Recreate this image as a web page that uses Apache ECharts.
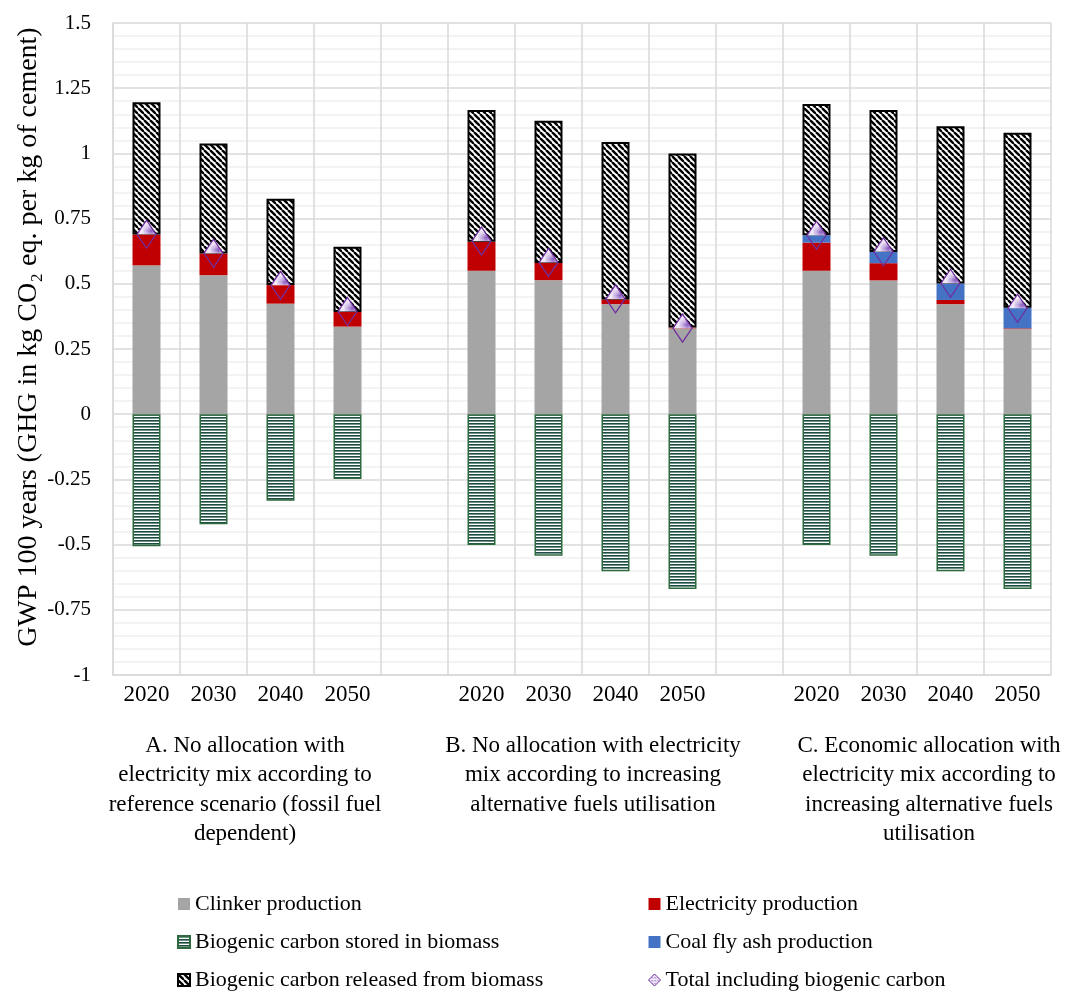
<!DOCTYPE html>
<html>
<head>
<meta charset="utf-8">
<script src="https://cdn.jsdelivr.net/npm/echarts@6/dist/echarts.min.js"></script>
<style>
    html, body { margin: 0; padding: 0; background: #fff; }
    #chart { width: 1067px; height: 991px; }
</style>
</head>
<body>
<div id="chart"></div>
<script>
// categories (empty slots separate the three scenarios)
var years = ['2020', '2030', '2040', '2050', '', '2020', '2030', '2040', '2050', '', '2020', '2030', '2040', '2050'];

// values, kg CO2 eq. per kg of cement
var clinker     = [0.571, 0.533, 0.424, 0.336, null, 0.550, 0.514, 0.422, 0.329, null, 0.550, 0.513, 0.422, 0.326];
var electricity = [0.118, 0.083, 0.071, 0.056, null, 0.111, 0.066, 0.018, 0.003, null, 0.108, 0.066, 0.016, 0.003];
var flyAsh      = [0, 0, 0, 0, null, 0, 0, 0, 0, null, 0.028, 0.043, 0.063, 0.079];
var released    = [0.507, 0.422, 0.331, 0.250, null, 0.505, 0.545, 0.604, 0.668, null, 0.503, 0.544, 0.603, 0.671];
var stored      = [-0.506, -0.422, -0.332, -0.248, null, -0.502, -0.543, -0.602, -0.670, null, -0.502, -0.543, -0.602, -0.670];
var total       = [0.690, 0.617, 0.494, 0.394, null, 0.664, 0.582, 0.442, 0.330, null, 0.686, 0.623, 0.502, 0.406];

// scenario labels under the years
var groupLabels = [
    'A. No allocation with\nelectricity mix according to\nreference scenario (fossil fuel\ndependent)',
    'B. No allocation with electricity\nmix according to increasing\nalternative fuels utilisation',
    'C. Economic allocation with\nelectricity mix according to\nincreasing alternative fuels\nutilisation'
];

var FONT = '"Liberation Serif", "Times New Roman", serif';

// 斜线填充
function hatchPattern() {
    var c = document.createElement('canvas');
    c.width = 6; c.height = 6;
    var ctx = c.getContext('2d');
    ctx.fillStyle = '#fff';
    ctx.fillRect(0, 0, 6, 6);
    ctx.strokeStyle = '#000';
    ctx.lineWidth = 2.4;
    for (var k = -6; k <= 6; k += 6) {
        ctx.beginPath();
        ctx.moveTo(k, 0);
        ctx.lineTo(k + 6, 6);
        ctx.stroke();
    }
    return c;
}

// 横线填充
function linesPattern() {
    var c = document.createElement('canvas');
    c.width = 3; c.height = 3;
    var ctx = c.getContext('2d');
    ctx.fillStyle = '#fff';
    ctx.fillRect(0, 0, 3, 3);
    ctx.fillStyle = '#1d4c43';
    ctx.fillRect(0, 0, 3, 1);
    ctx.fillStyle = '#6f8f88';
    ctx.fillRect(0, 1, 3, 1);
    return c;
}

// 点状填充
function dotPattern() {
    var c = document.createElement('canvas');
    c.width = 3; c.height = 3;
    var ctx = c.getContext('2d');
    ctx.fillStyle = '#f1e9f8';
    ctx.fillRect(0, 0, 3, 3);
    ctx.fillStyle = '#8a5cc0';
    ctx.fillRect(0, 0, 1, 1);
    ctx.fillStyle = '#b79ad9';
    ctx.fillRect(1, 1, 1, 1);
    return c;
}

var hatchFill = { image: hatchPattern(), repeat: 'repeat' };
var linesFill = { image: linesPattern(), repeat: 'repeat' };
var dotsFill = { image: dotPattern(), repeat: 'repeat' };

var myChart = echarts.init(document.getElementById('chart'));

var groupText = [
    { x: 245, text: groupLabels[0] },
    { x: 593, text: groupLabels[1] },
    { x: 929, text: groupLabels[2] }
].map(function (g) {
    return {
        type: 'text',
        x: g.x,
        y: 731,
        style: {
            text: g.text,
            font: '23px ' + FONT,
            fill: '#000',
            textAlign: 'center',
            textVerticalAlign: 'top',
            lineHeight: 29.5
        }
    };
});

var legendBase = {
    orient: 'vertical',
    top: 888,
    height: 140,
    itemWidth: 12,
    itemHeight: 12,
    itemGap: 16,
    icon: 'rect',
    textStyle: { color: '#000', fontFamily: FONT, fontSize: 22, lineHeight: 20 }
};

var option = {
    animation: false,
    backgroundColor: '#fff',
    grid: { left: 113, top: 23, right: 16, bottom: 316, containLabel: false },
    xAxis: {
        type: 'category',
        data: years,
        boundaryGap: true,
        axisLine: { show: true, onZero: false, lineStyle: { color: '#d9d9d9', width: 1.5 } },
        axisTick: { show: false },
        axisLabel: { color: '#000', fontFamily: FONT, fontSize: 23, margin: 8, interval: 0 },
        splitLine: { show: true, interval: 0, lineStyle: { color: '#d9d9d9', width: 1.5 } }
    },
    yAxis: {
        type: 'value',
        min: -1,
        max: 1.5,
        interval: 0.25,
        axisLine: { show: true, lineStyle: { color: '#d9d9d9', width: 1.5 } },
        axisTick: { show: false },
        axisLabel: { color: '#000', fontFamily: FONT, fontSize: 21, margin: 22 },
        splitLine: { show: true, lineStyle: { color: '#d9d9d9', width: 1.5 } },
        minorTick: { show: false, splitNumber: 5 },
        minorSplitLine: { show: true, lineStyle: { color: '#f0f0f0', width: 1.5 } }
    },
    legend: [
        Object.assign({}, legendBase, {
            left: 172,
            data: ['Clinker production', 'Biogenic carbon stored in biomass', 'Biogenic carbon released from biomass']
        }),
        Object.assign({}, legendBase, {
            left: 643,
            data: ['Electricity production', 'Coal fly ash production', {
                name: 'Total including biogenic carbon',
                icon: 'diamond',
                itemStyle: { color: dotsFill, borderColor: '#7030a0', borderWidth: 1 }
            }]
        })
    ],
    graphic: [{
        type: 'text',
        x: 29,
        y: 337,
        rotation: Math.PI / 2,
        style: {
            text: 'GWP 100 years (GHG in kg CO₂ eq. per kg of cement)',
            font: '28px ' + FONT,
            fill: '#000',
            textAlign: 'center',
            textVerticalAlign: 'middle'
        }
    }].concat(groupText),
    series: [{
        name: 'Clinker production',
        type: 'bar',
        stack: 'gwp',
        barWidth: 28,
        data: clinker,
        itemStyle: { color: '#a5a5a5' }
    }, {
        name: 'Electricity production',
        type: 'bar',
        stack: 'gwp',
        data: electricity,
        itemStyle: { color: '#c00000' }
    }, {
        name: 'Coal fly ash production',
        type: 'bar',
        stack: 'gwp',
        data: flyAsh,
        itemStyle: { color: '#4472c4' }
    }, {
        name: 'Biogenic carbon released from biomass',
        type: 'bar',
        stack: 'gwp',
        data: released,
        itemStyle: { color: hatchFill, borderColor: '#000', borderWidth: 2 }
    }, {
        name: 'Biogenic carbon stored in biomass',
        type: 'bar',
        stack: 'gwp',
        data: stored,
        itemStyle: { color: linesFill, borderColor: '#2d6a3e', borderWidth: 1.5 }
    }, {
        // 上半部分的点状填充
        name: 'totalFill',
        type: 'scatter',
        data: total,
        symbol: 'triangle',
        symbolSize: [18, 14],
        symbolOffset: [0, -7],
        z: 3,
        silent: true,
        itemStyle: { color: dotsFill, opacity: 1 }
    }, {
        name: 'Total including biogenic carbon',
        type: 'scatter',
        data: total,
        symbol: 'diamond',
        symbolSize: [19, 28],
        z: 4,
        itemStyle: { color: 'rgba(0,0,0,0)', borderColor: '#7030a0', borderWidth: 1.3, opacity: 1 }
    }]
};

myChart.setOption(option);
</script>
</body>
</html>
